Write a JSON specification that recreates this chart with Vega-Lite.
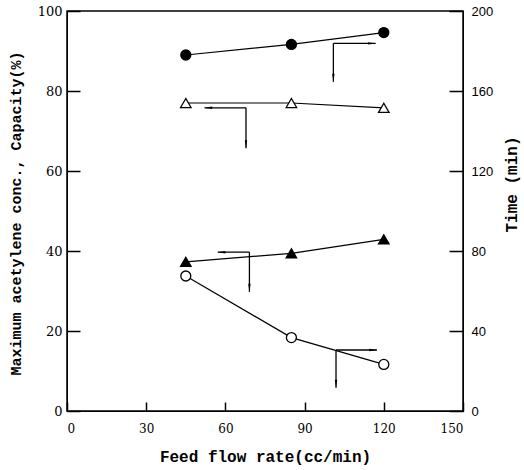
{
  "$schema": "https://vega.github.io/schema/vega-lite/v6.json",
  "width": 396,
  "height": 400,
  "autosize": "none",
  "padding": {"left": 67, "top": 11, "right": 61, "bottom": 59},
  "background": "white",
  "config": {
    "view": {"stroke": "black", "strokeWidth": 1.5},
    "axis": {
      "domainColor": "black", "tickColor": "black", "tickWidth": 1.5, "grid": false,
      "labelColor": "black", "titleColor": "black",
      "labelFont": "DejaVu Serif", "labelFontSize": 13,
      "titleFont": "Liberation Mono", "titleFontWeight": "bold"
    }
  },
  "datasets": {
    "left": [
      {"series": "open_tri", "flow": 45, "value": 77.0},
      {"series": "open_tri", "flow": 85, "value": 77.0},
      {"series": "open_tri", "flow": 120, "value": 75.8},
      {"series": "filled_tri", "flow": 45, "value": 37.3},
      {"series": "filled_tri", "flow": 85, "value": 39.4},
      {"series": "filled_tri", "flow": 120, "value": 42.9}
    ],
    "right": [
      {"series": "filled_circle", "flow": 45, "time": 178},
      {"series": "filled_circle", "flow": 85, "time": 183.3},
      {"series": "filled_circle", "flow": 120, "time": 189.2},
      {"series": "open_circle", "flow": 45, "time": 67.5},
      {"series": "open_circle", "flow": 85, "time": 36.7},
      {"series": "open_circle", "flow": 120, "time": 23.3}
    ],
    "segments": [
      {"x": 100.9, "x2": 116.9, "y": 91.9, "y2": 91.9},
      {"x": 100.9, "x2": 100.9, "y": 91.9, "y2": 82.3},
      {"x": 67.8, "x2": 52.1, "y": 75.8, "y2": 75.8},
      {"x": 67.8, "x2": 67.8, "y": 75.8, "y2": 65.7},
      {"x": 69.1, "x2": 57.1, "y": 39.7, "y2": 39.7},
      {"x": 69.1, "x2": 69.1, "y": 39.7, "y2": 29.8},
      {"x": 101.9, "x2": 117.4, "y": 15.25, "y2": 15.25},
      {"x": 101.9, "x2": 101.9, "y": 15.25, "y2": 5.8}
    ],
    "heads": [
      {"x": 115.5, "y": 91.9, "dir": "right"},
      {"x": 100.9, "y": 83.3, "dir": "down"},
      {"x": 53.5, "y": 75.8, "dir": "left"},
      {"x": 67.8, "y": 66.7, "dir": "down"},
      {"x": 58.5, "y": 39.7, "dir": "left"},
      {"x": 69.1, "y": 30.8, "dir": "down"},
      {"x": 116.0, "y": 15.25, "dir": "right"},
      {"x": 101.9, "y": 6.8, "dir": "down"}
    ]
  },
  "encoding": {
    "x": {
      "field": "flow", "type": "quantitative",
      "scale": {"domain": [0, 150], "nice": false},
      "axis": {
        "values": {"expr": "[0, 30, 60, 90, 120, 150]"},
        "tickSize": -9, "labelPadding": 21, "labelFontSize": 12,
        "title": "Feed flow rate(cc/min)", "titleFontSize": 16, "titlePadding": 14
      }
    }
  },
  "layer": [
    {
      "encoding": {
        "y": {
          "type": "quantitative",
          "scale": {"domain": [0, 100], "nice": false},
          "axis": {
            "tickCount": 5,
            "tickSize": -13, "labelPadding": 18,
            "title": "Maximum acetylene conc.,  Capacity(%)", "titleFontSize": 15, "titlePadding": 14, "titleY": 202
          }
        }
      },
      "layer": [
        {
          "data": {"name": "left"},
          "mark": {"type": "line", "color": "black", "strokeWidth": 1.2},
          "encoding": {"y": {"field": "value"}, "detail": {"field": "series"}}
        },
        {
          "data": {"name": "left"},
          "mark": {"type": "point", "size": 110, "stroke": "black", "strokeWidth": 1.3, "opacity": 1},
          "encoding": {
            "y": {"field": "value"},
            "shape": {"value": "triangle-up"},
            "fill": {"field": "series", "type": "nominal", "scale": {"domain": ["open_tri", "filled_tri"], "range": ["white", "black"]}, "legend": null}
          }
        },
        {
          "data": {"name": "segments"},
          "mark": {"type": "rule", "color": "black", "strokeWidth": 1.3},
          "encoding": {"x": {"field": "x", "type": "quantitative"}, "x2": {"field": "x2"}, "y": {"field": "y"}, "y2": {"field": "y2"}}
        },
        {
          "data": {"name": "heads"},
          "mark": {"type": "point", "filled": true, "color": "black", "size": 64, "opacity": 1},
          "encoding": {
            "x": {"field": "x", "type": "quantitative"},
            "y": {"field": "y"},
            "shape": {"field": "dir", "type": "nominal", "scale": {"domain": ["right", "left", "down"], "range": ["M1,0L-1,-0.3L-1,0.3Z", "M-1,0L1,-0.3L1,0.3Z", "M0,1L-0.3,-1L0.3,-1Z"]}, "legend": null}
          }
        }
      ]
    },
    {
      "data": {"name": "right"},
      "encoding": {
        "y": {
          "field": "time", "type": "quantitative",
          "scale": {"domain": [0, 200], "nice": false},
          "axis": {
            "orient": "right", "values": {"expr": "[0, 40, 80, 120, 160, 200]"},
            "tickSize": -14, "labelPadding": 22, "labelFont": "Liberation Sans", "labelFontSize": 13,
            "title": "Time (min)", "titleFontSize": 16, "titleAngle": 270, "titlePadding": 27, "titleY": 173
          }
        }
      },
      "layer": [
        {
          "mark": {"type": "line", "color": "black", "strokeWidth": 1.2},
          "encoding": {"detail": {"field": "series"}}
        },
        {
          "mark": {"type": "point", "size": 100, "stroke": "black", "strokeWidth": 1.3, "opacity": 1},
          "encoding": {
            "shape": {"value": "circle"},
            "fill": {"field": "series", "type": "nominal", "scale": {"domain": ["open_circle", "filled_circle"], "range": ["white", "black"]}, "legend": null}
          }
        }
      ]
    }
  ],
  "resolve": {"scale": {"y": "independent", "fill": "independent"}}
}
